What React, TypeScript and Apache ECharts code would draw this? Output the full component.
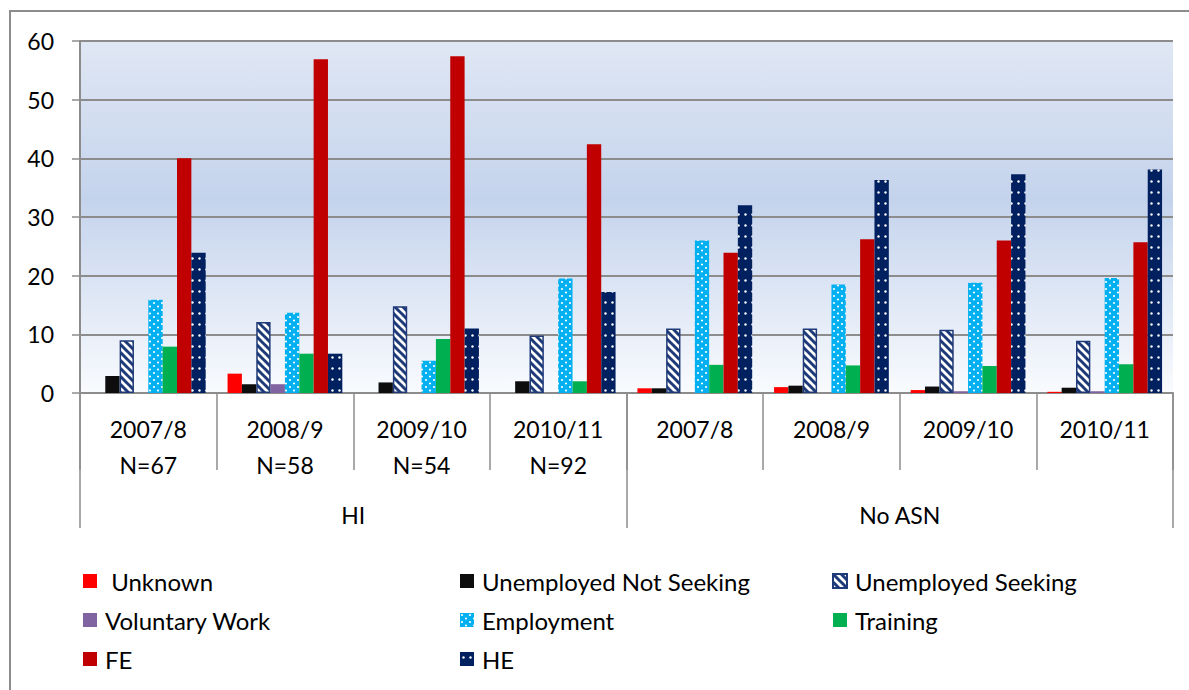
import React, { useEffect, useRef } from "react";
import * as echarts from "echarts";

const categories = [
  "2007/8\nN=67",
  "2008/9\nN=58",
  "2009/10\nN=54",
  "2010/11\nN=92",
  "2007/8",
  "2008/9",
  "2009/10",
  "2010/11",
];
const groups = ["HI", "No ASN"];
const yTicks = [0, 10, 20, 30, 40, 50, 60];

const seriesNames = [
  " Unknown",
  "Unemployed Not Seeking",
  "Unemployed Seeking",
  "Voluntary Work",
  "Employment",
  "Training",
  "FE",
  "HE",
];
const unknown = [0, 3.3, 0, 0, 0.8, 1.0, 0.5, 0.2];
const unemployedNotSeeking = [2.9, 1.5, 1.8, 2.0, 0.8, 1.25, 1.1, 0.9];
const unemployedSeeking = [9.0, 12.1, 14.8, 9.8, 11.0, 11.0, 10.8, 8.9];
const voluntaryWork = [0, 1.5, 0, 0, 0, 0, 0.3, 0.3];
const employment = [15.9, 13.7, 5.5, 19.5, 26.0, 18.5, 18.8, 19.6];
const training = [7.9, 6.7, 9.2, 2.0, 4.8, 4.7, 4.6, 4.9];
const fe = [40.0, 56.9, 57.4, 42.4, 23.9, 26.2, 26.0, 25.7];
const he = [23.9, 6.7, 11.0, 17.2, 32.0, 36.3, 37.3, 38.1];

const FONT = "Lato";

function stripeCanvas() {
  const c = document.createElement("canvas");
  c.width = 8;
  c.height = 8;
  const ctx = c.getContext("2d")!;
  ctx.fillStyle = "#ffffff";
  ctx.fillRect(0, 0, 8, 8);
  ctx.strokeStyle = "#1f3a78";
  ctx.lineWidth = 3;
  for (const k of [-8, 0, 8]) {
    ctx.beginPath();
    ctx.moveTo(k - 1, -1);
    ctx.lineTo(k + 9, 9);
    ctx.stroke();
  }
  return c;
}

function dotCanvas(bg: string, w: number, h: number, dots: number[][], r: number) {
  const c = document.createElement("canvas");
  c.width = w;
  c.height = h;
  const ctx = c.getContext("2d")!;
  ctx.fillStyle = bg;
  ctx.fillRect(0, 0, w, h);
  ctx.fillStyle = "#ffffff";
  for (const [x, y] of dots) {
    ctx.beginPath();
    ctx.arc(x, y, r, 0, Math.PI * 2);
    ctx.fill();
  }
  return c;
}

export default function App() {
  const ref = useRef<HTMLDivElement>(null);
  useEffect(() => {
    if (!ref.current) return;
    const chart = echarts.init(ref.current, null, { renderer: "svg" });

    const stripe = { image: stripeCanvas(), repeat: "repeat" };
    const empDots = {
      image: dotCanvas("#00b0f0", 8, 7, [[2, 2], [6, 5.5]], 1.1),
      repeat: "repeat",
    };
    const heDots = {
      image: dotCanvas("#002060", 7, 11, [[3.5, 5.5]], 1.2),
      repeat: "repeat",
    };

    const values = [
      unknown,
      unemployedNotSeeking,
      unemployedSeeking,
      voluntaryWork,
      employment,
      training,
      fe,
      he,
    ];
    const colors: any[] = [
      "#ff0000",
      "#0d0d0d",
      stripe,
      "#8064a2",
      empDots,
      "#00b050",
      "#c00000",
      heDots,
    ];

    const series = seriesNames.map((name, i) => ({
      name,
      type: "bar",
      xAxisIndex: 0,
      yAxisIndex: 0,
      data: values[i],
      barGap: "0%",
      barCategoryGap: "16%",
      itemStyle: {
        color: colors[i],
        borderColor: i === 2 ? "#1f3a78" : undefined,
        borderWidth: i === 2 ? 1.5 : 0,
      },
    }));

    const legendBase = {
      orient: "vertical",
      top: 569,
      padding: 0,
      itemWidth: 14,
      itemHeight: 14,
      itemGap: 15,
      icon: "rect",
      textStyle: {
        fontFamily: FONT,
        fontSize: 24,
        color: "#000",
        lineHeight: 22,
        padding: [0, 0, 0, 3],
      },
    };

    const gridPos = { left: 80, right: 16, top: 41, bottom: 297 };

    chart.setOption({
      animation: false,
      backgroundColor: "#ffffff",
      graphic: [
        {
          type: "rect",
          shape: { x: 10, y: 11, width: 1220, height: 720 },
          style: { fill: "none", stroke: "#8c8c8c", lineWidth: 2 },
          silent: true,
          z: -10,
        },
      ],
      grid: [
        {
          ...gridPos,
          show: true,
          borderWidth: 0,
          backgroundColor: {
            type: "linear",
            x: 0,
            y: 0,
            x2: 0,
            y2: 1,
            colorStops: [
              { offset: 0, color: "#e0e7f4" },
              { offset: 0.45, color: "#c4d3ec" },
              { offset: 1, color: "#f9fbfe" },
            ],
          },
        },
        { ...gridPos, show: false },
      ],
      legend: [
        {
          ...legendBase,
          left: 83,
          data: [seriesNames[0], seriesNames[3], seriesNames[6]],
        },
        {
          ...legendBase,
          left: 460,
          data: [seriesNames[1], seriesNames[4], seriesNames[7]],
        },
        {
          ...legendBase,
          left: 832,
          data: [seriesNames[2], seriesNames[5]],
        },
      ],
      xAxis: [
        {
          type: "category",
          gridIndex: 0,
          data: categories,
          axisLine: { show: true, lineStyle: { color: "#8c8c8c", width: 2 } },
          axisTick: {
            show: true,
            interval: 0,
            length: 77,
            lineStyle: { color: "#8c8c8c", width: 1.5 },
          },
          axisLabel: {
            interval: 0,
            margin: 18,
            fontFamily: FONT,
            fontSize: 23,
            lineHeight: 36,
            color: "#000",
          },
          splitLine: { show: false },
        },
        {
          type: "category",
          gridIndex: 1,
          data: groups,
          axisLine: { show: false },
          axisTick: {
            show: true,
            interval: 0,
            length: 135,
            lineStyle: { color: "#8c8c8c", width: 1.5 },
          },
          axisLabel: {
            interval: 0,
            margin: 104,
            fontFamily: FONT,
            fontSize: 23,
            lineHeight: 36,
            color: "#000",
          },
          splitLine: { show: false },
        },
      ],
      yAxis: [
        {
          type: "value",
          gridIndex: 0,
          min: yTicks[0],
          max: yTicks[yTicks.length - 1],
          interval: 10,
          axisLine: { show: true, lineStyle: { color: "#8c8c8c", width: 2 } },
          axisTick: {
            show: true,
            length: 8,
            lineStyle: { color: "#8c8c8c", width: 1.5 },
          },
          axisLabel: {
            margin: 26,
            fontFamily: FONT,
            fontSize: 23,
            color: "#000",
          },
          splitLine: { show: true, lineStyle: { color: "#8c8c8c", width: 2 } },
        },
        {
          type: "value",
          gridIndex: 1,
          min: 0,
          max: 60,
          show: false,
        },
      ],
      series,
    });
    return () => chart.dispose();
  }, []);
  return (
    <div
      ref={ref}
      style={{ position: "fixed", left: 0, top: 0, width: 1189, height: 690 }}
    />
  );
}
